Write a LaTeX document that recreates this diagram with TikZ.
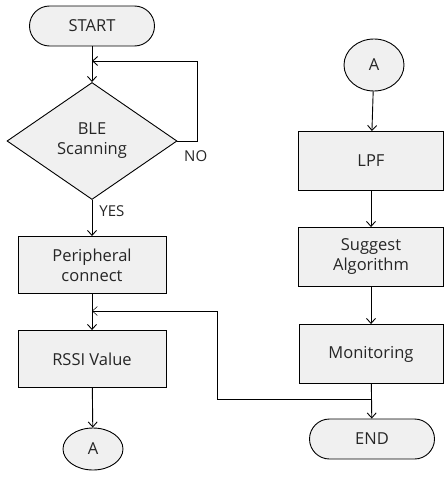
\documentclass[tikz,border=0pt]{standalone}
\usepackage{fontspec}
\setmainfont{Open Sans}
\usetikzlibrary{shapes.geometric,arrows.meta,positioning,calc}

\begin{document}
\begin{tikzpicture}[
        x=1pt, y=-1pt,
        font=\fontsize{16.5}{20}\selectfont,
        every node/.style={text=black!85},
        terminal/.style={draw, rectangle, rounded corners=20pt, minimum width=125pt, minimum height=40pt, fill=black!6, line width=0.9pt},
        process/.style={draw, rectangle, minimum width=148pt, minimum height=57pt, fill=black!6, align=center, line width=0.9pt},
        decision/.style={draw, diamond, minimum width=170pt, minimum height=117pt, inner sep=0pt, fill=black!6, align=center, line width=0.9pt},
        connector/.style={draw, ellipse, minimum width=60pt, minimum height=42pt, inner sep=0pt, fill=black!6, line width=0.9pt},
        label/.style={font=\fontsize{15}{18}\selectfont, inner sep=0pt},
        arrow/.style={-{Straight Barb[length=5pt,width=9pt]}, line width=0.9pt},
        thinarrow/.style={-{Straight Barb[length=5pt,width=9pt]}, line width=0.5pt}
    ]
        \useasboundingbox (0,0) rectangle (444,479);

        % left column
        \node[terminal] (start) at (92,26) {START};
        \node[decision] (scan) at (92,141) {BLE\\Scanning};
        \node[process] (periph) at (92,265) {Peripheral\\connect};
        \node[process] (rssi) at (92,359) {RSSI Value};
        \node[connector] (leftA) at (93,449) {A};

        % right column
        \node[connector, minimum height=52pt] (rightA) at (374,65) {A};
        \node[process, minimum width=145pt, minimum height=59pt] (lpf) at (371,161) {LPF};
        \node[process, minimum width=145pt, minimum height=59pt] (suggest) at (371,257) {Suggest\\Algorithm};
        \node[process, minimum width=144pt, minimum height=59pt] (monitor) at (371,354) {Monitoring};
        \node[terminal] (stop) at (372,439) {END};

        \coordinate (loopin) at (92,61);
        \coordinate (backin) at (92,311);
        \coordinate (backout) at (372,399);
        \coordinate (backturn) at (217,399);

        \draw[arrow] (start) -- (scan);
        \draw[arrow] (scan.east) -- ++(20,0) |- (loopin);
        \node[label, anchor=north west] (no) at (184,150) {NO};
        \draw[arrow] (scan) -- node[label, right=7pt, pos=0.3] {YES} (periph);
        \draw[arrow] (periph) -- (rssi);
        \draw[thinarrow] (backout) -- (backturn) |- (backin);
        \draw[arrow] (rssi) -- (leftA);

        \draw[arrow] (rightA) -- (lpf);
        \draw[arrow] (lpf) -- (suggest);
        \draw[arrow] (suggest) -- (monitor);
        \draw[arrow] (monitor) -- (stop);
    \end{tikzpicture}
\end{document}
